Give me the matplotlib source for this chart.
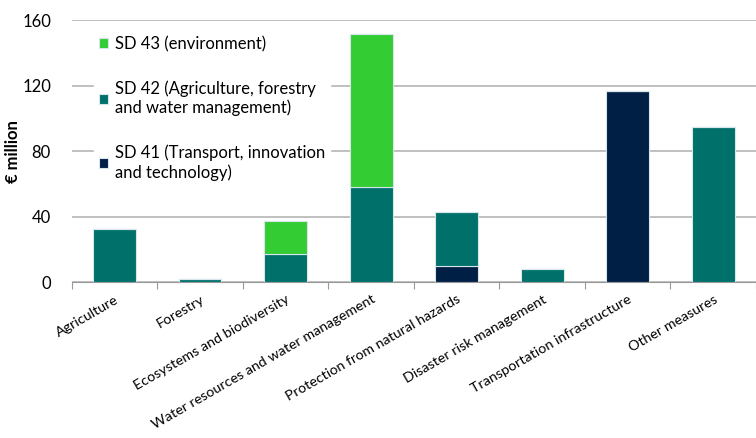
import numpy as np
import matplotlib.pyplot as plt

# dados (€ milhões)
categorias = ['Agriculture', 'Forestry', 'Ecosystems and biodiversity',
              'Water resources and water management', 'Protection from natural hazards',
              'Disaster risk management', 'Transportation infrastructure', 'Other measures']
sd41 = [0, 0, 0, 0, 10, 0, 116.6, 0]
sd42 = [32.4, 1.6, 17.1, 57.8, 32.7, 8, 0, 94.8]
sd43 = [0, 0, 20.5, 93.8, 0, 0, 0, 0]

cor41 = '#001f45'
cor42 = '#00706a'
cor43 = '#33cc33'

plt.rcParams['font.family'] = ['Lato', 'DejaVu Sans']

fig = plt.figure(figsize=(7.56, 4.38), dpi=100)
ax = fig.add_axes([0.095, 0.356, 0.905, 0.598])

x = np.arange(len(categorias))
sd41 = np.array(sd41)
sd42 = np.array(sd42)
sd43 = np.array(sd43)
largura = 0.5
borda = dict(edgecolor='#d6e6ea', linewidth=0.8)

b41 = ax.bar(x, sd41, largura, color=cor41, zorder=3, **borda)
b42 = ax.bar(x, sd42, largura, bottom=sd41, color=cor42, zorder=3, **borda)
b43 = ax.bar(x, sd43, largura, bottom=sd41 + sd42, color=cor43, zorder=3, **borda)

ax.set_xlim(-0.5, len(categorias) - 0.5)
ax.set_ylim(0, 160)
ax.set_yticks([0, 40, 80, 120, 160])
ax.yaxis.grid(True, color='#b5b5b5', linewidth=1.2, zorder=0)
ax.tick_params(axis='y', labelsize=12, length=0, pad=15)

# ticks nas fronteiras das categorias
ax.set_xticks(np.arange(len(categorias) + 1) - 0.5)
ax.set_xticklabels([])
ax.tick_params(axis='x', which='major', length=5, color='#999999', direction='out')
ax.set_xticks(x, minor=True)
ax.set_xticklabels(categorias, minor=True, rotation=30, ha='right',
                   rotation_mode='anchor', fontsize=10.3)
ax.tick_params(axis='x', which='minor', length=0, pad=8)

for lado in ['top', 'right', 'left']:
    ax.spines[lado].set_visible(False)
ax.spines['bottom'].set_color('#999999')

ax.set_ylabel('€ million', fontsize=12, fontweight='bold')
ax.yaxis.set_label_coords(-0.074, 0.5)

leg = ax.legend([b43, b42, b41],
                ['SD 43 (environment)',
                 'SD 42 (Agriculture, forestry\nand water management)',
                 'SD 41 (Transport, innovation\nand technology)'],
                loc='upper left', bbox_to_anchor=(0.02, 0.99), fontsize=12,
                frameon=True, facecolor='white', edgecolor='white', framealpha=1,
                handlelength=0.55, handleheight=0.55, handletextpad=0.4,
                labelspacing=1.7, borderpad=0.3)
leg.set_zorder(5)

fig.savefig('out.png', dpi=100)
